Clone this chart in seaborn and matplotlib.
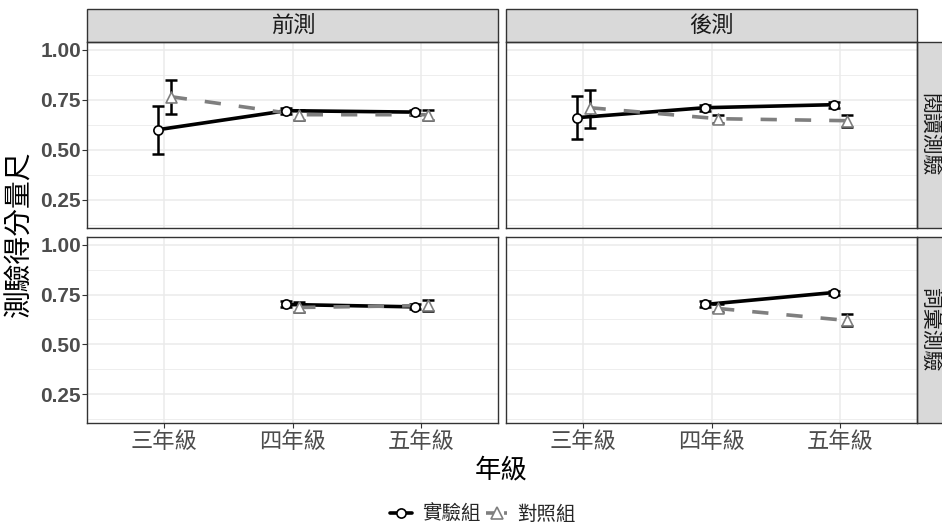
import matplotlib
matplotlib.use('Agg')
import matplotlib.pyplot as plt
from matplotlib.patches import Rectangle
from matplotlib.lines import Line2D
import seaborn as sns
import pandas as pd
import numpy as np

# categories
grades = ['三年級', '四年級', '五年級']
phases = ['前測', '後測']
tests = ['閱讀測驗', '詞彙測驗']
groups = ['實驗組', '對照組']

# 閱讀測驗 / 前測
read_pre_exp = [0.60, 0.695, 0.688]
read_pre_exp_lo = [0.48, 0.68, 0.675]
read_pre_exp_hi = [0.72, 0.71, 0.70]
read_pre_ctl = [0.765, 0.675, 0.675]
read_pre_ctl_lo = [0.68, 0.65, 0.65]
read_pre_ctl_hi = [0.85, 0.70, 0.70]

# 閱讀測驗 / 後測
read_post_exp = [0.66, 0.71, 0.725]
read_post_exp_lo = [0.555, 0.695, 0.71]
read_post_exp_hi = [0.77, 0.725, 0.74]
read_post_ctl = [0.71, 0.655, 0.645]
read_post_ctl_lo = [0.61, 0.635, 0.615]
read_post_ctl_hi = [0.80, 0.675, 0.675]

# 詞彙測驗 / 前測 (no 三年級 data)
vocab_pre_exp = [np.nan, 0.70, 0.688]
vocab_pre_exp_lo = [np.nan, 0.685, 0.675]
vocab_pre_exp_hi = [np.nan, 0.715, 0.70]
vocab_pre_ctl = [np.nan, 0.685, 0.695]
vocab_pre_ctl_lo = [np.nan, 0.66, 0.665]
vocab_pre_ctl_hi = [np.nan, 0.71, 0.72]

# 詞彙測驗 / 後測
vocab_post_exp = [np.nan, 0.70, 0.76]
vocab_post_exp_lo = [np.nan, 0.685, 0.75]
vocab_post_exp_hi = [np.nan, 0.715, 0.77]
vocab_post_ctl = [np.nan, 0.68, 0.62]
vocab_post_ctl_lo = [np.nan, 0.66, 0.59]
vocab_post_ctl_hi = [np.nan, 0.70, 0.65]

series = [
    ('閱讀測驗', '前測', '實驗組', read_pre_exp, read_pre_exp_lo, read_pre_exp_hi),
    ('閱讀測驗', '前測', '對照組', read_pre_ctl, read_pre_ctl_lo, read_pre_ctl_hi),
    ('閱讀測驗', '後測', '實驗組', read_post_exp, read_post_exp_lo, read_post_exp_hi),
    ('閱讀測驗', '後測', '對照組', read_post_ctl, read_post_ctl_lo, read_post_ctl_hi),
    ('詞彙測驗', '前測', '實驗組', vocab_pre_exp, vocab_pre_exp_lo, vocab_pre_exp_hi),
    ('詞彙測驗', '前測', '對照組', vocab_pre_ctl, vocab_pre_ctl_lo, vocab_pre_ctl_hi),
    ('詞彙測驗', '後測', '實驗組', vocab_post_exp, vocab_post_exp_lo, vocab_post_exp_hi),
    ('詞彙測驗', '後測', '對照組', vocab_post_ctl, vocab_post_ctl_lo, vocab_post_ctl_hi),
]

rows = []
for test, phase, group, means, lows, highs in series:
    for grade, m, lo, hi in zip(grades, means, lows, highs):
        rows.append(dict(test=test, phase=phase, group=group, grade=grade,
                         mean=m, lo=lo, hi=hi))
df = pd.DataFrame(rows).dropna()

# dodge the two groups a little, like position_dodge
dodge = {'實驗組': -0.05, '對照組': 0.05}
df['xpos'] = df['grade'].map({g: i for i, g in enumerate(grades)}) + df['group'].map(dodge)

style = {
    '實驗組': dict(color='black', marker='o', s=44, ls='-'),
    '對照組': dict(color='#7F7F7F', marker='^', s=62, ls=(0, (4.5, 5))),
}

sns.set_theme(style='white')
plt.rcParams['font.family'] = ['Noto Sans CJK TC', 'DejaVu Sans']

fig, axes = plt.subplots(2, 2, figsize=(9.42, 5.28), dpi=100)
fig.patch.set_facecolor('white')

col_x = [87.3 / 942, 506 / 942]
col_w = [411 / 942, 411.3 / 942]
row_y = [1 - 228.3 / 528, 1 - 422.7 / 528]
row_h = [186.6 / 528, 186 / 528]

for r, test in enumerate(tests):
    for c, phase in enumerate(phases):
        ax = axes[r, c]
        ax.set_position([col_x[c], row_y[r], col_w[c], row_h[r]])
        sub = df[(df['test'] == test) & (df['phase'] == phase)]

        for group in groups:
            d = sub[sub['group'] == group]
            ax.errorbar(d['xpos'], d['mean'],
                        yerr=[d['mean'] - d['lo'], d['hi'] - d['mean']],
                        fmt='none', ecolor='black', elinewidth=1.8,
                        capsize=4.2, capthick=1.8, zorder=2)
        for group in groups:
            d = sub[sub['group'] == group]
            st = style[group]
            sns.lineplot(data=d, x='xpos', y='mean', ax=ax, color=st['color'],
                         lw=2.6, linestyle=st['ls'], errorbar=None,
                         legend=False, zorder=3)
        for group in groups:
            d = sub[sub['group'] == group]
            st = style[group]
            sns.scatterplot(data=d, x='xpos', y='mean', ax=ax, marker=st['marker'],
                            s=st['s'], color='white', edgecolor=st['color'],
                            linewidth=1.2, legend=False, zorder=4)

        ax.set_xlim(-0.6, 2.6)
        ax.set_ylim(0.107, 1.04)
        ax.set_xticks(range(len(grades)))
        ax.set_xticklabels(grades)
        ax.set_yticks([0.25, 0.50, 0.75, 1.00])
        ax.set_yticklabels(['0.25', '0.50', '0.75', '1.00'])
        ax.set_yticks([0.125, 0.375, 0.625, 0.875], minor=True)
        ax.set_xlabel('')
        ax.set_ylabel('')
        ax.set_facecolor('white')
        ax.grid(which='major', color='#EBEBEB', lw=1.1)
        ax.grid(which='minor', axis='y', color='#EBEBEB', lw=0.6)
        ax.set_axisbelow(True)
        for sp in ax.spines.values():
            sp.set_color('#333333')
            sp.set_linewidth(1.0)
            sp.set_visible(True)

        ax.tick_params(which='minor', length=0)
        ax.tick_params(axis='both', which='major', direction='out', length=3.5,
                       width=0.8, color='#333333')
        ax.tick_params(axis='x', labelsize=16, labelcolor='#4D4D4D', pad=1.5,
                       bottom=(r == 1), labelbottom=(r == 1))
        ax.tick_params(axis='y', labelsize=15, labelcolor='#4D4D4D', pad=1.0,
                       left=(c == 0), labelleft=(c == 0))
        for lab in ax.get_yticklabels():
            lab.set_fontfamily('Liberation Sans')
            lab.set_fontweight('bold')

        # top strips
        if r == 0:
            ax.add_patch(Rectangle((0, 1), 1, 32.7 / 186.6, transform=ax.transAxes,
                                   facecolor='#D9D9D9', edgecolor='#333333',
                                   lw=1.0, clip_on=False))
            ax.text(0.5, 1 + 16.3 / 186.6, phase, transform=ax.transAxes,
                    ha='center', va='center', fontsize=16, color='#1A1A1A')
        # right strips
        if c == 1:
            ax.add_patch(Rectangle((1, 0), 26 / 411.3, 1, transform=ax.transAxes,
                                   facecolor='#D9D9D9', edgecolor='#333333',
                                   lw=1.0, clip_on=False))
            ax.text(1 + 12 / 411.3, 0.5, test, transform=ax.transAxes,
                    ha='center', va='center', rotation=-90, fontsize=15,
                    color='#1A1A1A')

fig.text(501 / 942, 1 - 470 / 528, '年級', ha='center', va='center', fontsize=19,
         color='black')
fig.text(19 / 942, 1 - 234 / 528, '測驗得分量尺', ha='center', va='center',
         rotation=90, fontsize=20, color='black')

handles = [
    Line2D([], [], color='black', lw=2.6, marker='o', markersize=6.6,
           markerfacecolor='white', markeredgecolor='black', markeredgewidth=1.2),
    Line2D([], [], color='#7F7F7F', lw=2.6, ls=(0, (2.5, 2.5)), marker='^',
           markersize=8, markerfacecolor='white', markeredgecolor='#7F7F7F',
           markeredgewidth=1.2),
]
fig.legend(handles, groups, loc='center', bbox_to_anchor=(483 / 942, 1 - 514 / 528),
           ncol=2, frameon=False, fontsize=14, handlelength=1.1,
           handletextpad=0.5, columnspacing=0.3, borderpad=0)

fig.savefig('out.png', dpi=100, facecolor='white')
